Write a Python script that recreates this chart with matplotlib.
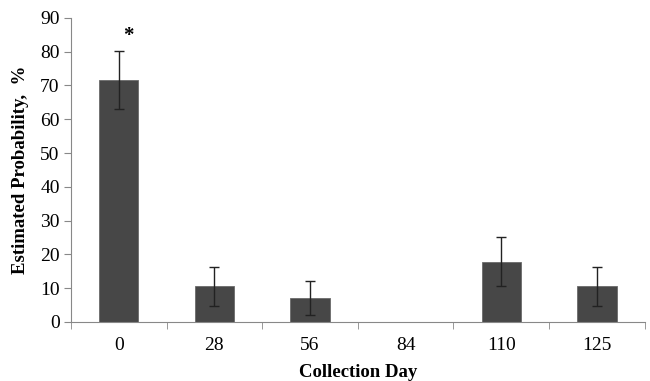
import matplotlib.pyplot as plt
import numpy as np

plt.rcParams['font.family'] = ['Liberation Serif', 'DejaVu Serif']

days = ['0', '28', '56', '84', '110', '125']
prob = [71.6, 10.5, 7.1, 0, 17.8, 10.5]
err = [8.6, 5.8, 5.0, 0, 7.3, 5.8]

fig = plt.figure(figsize=(6.5, 3.81), dpi=100)
ax = fig.add_axes([0.109, 0.155, 0.883, 0.798])

x = np.arange(len(days))
ax.bar(x, prob, width=0.41, color='#474747', edgecolor='#6a6a6a', linewidth=0.6, zorder=2)
# skip error bar where there is no bar
mask = np.array(prob) > 0
ax.errorbar(x[mask], np.array(prob)[mask], yerr=np.array(err)[mask], fmt='none',
            ecolor='#222222', elinewidth=1.0, capsize=3.3, capthick=1.0, zorder=3)
ax.text(0.1, 84.5, '*', ha='center', va='center', fontsize=15, fontweight='bold')

ax.set_xlim(-0.5, len(days) - 0.5)
ax.set_ylim(0, 90)
ax.set_yticks(range(0, 91, 10))
ax.set_xticks(x)
ax.set_xticklabels(days)
ax.set_xticks(np.arange(-0.5, len(days), 1), minor=True)
ax.tick_params(axis='x', which='major', length=0, labelsize=14, pad=11)
ax.tick_params(axis='x', which='minor', length=5, color='#888888', direction='out')
ax.tick_params(axis='y', length=5, color='#888888', labelsize=14, pad=3)

for s in ['top', 'right']:
    ax.spines[s].set_visible(False)
ax.spines['left'].set_color('#888888')
ax.spines['bottom'].set_color('#888888')

ax.set_xlabel('Collection Day', fontsize=13.5, fontweight='bold', labelpad=7)
ax.set_ylabel('Estimated Probability,  %', fontsize=13.5, fontweight='bold', labelpad=8)

fig.savefig('out.png', dpi=100)
